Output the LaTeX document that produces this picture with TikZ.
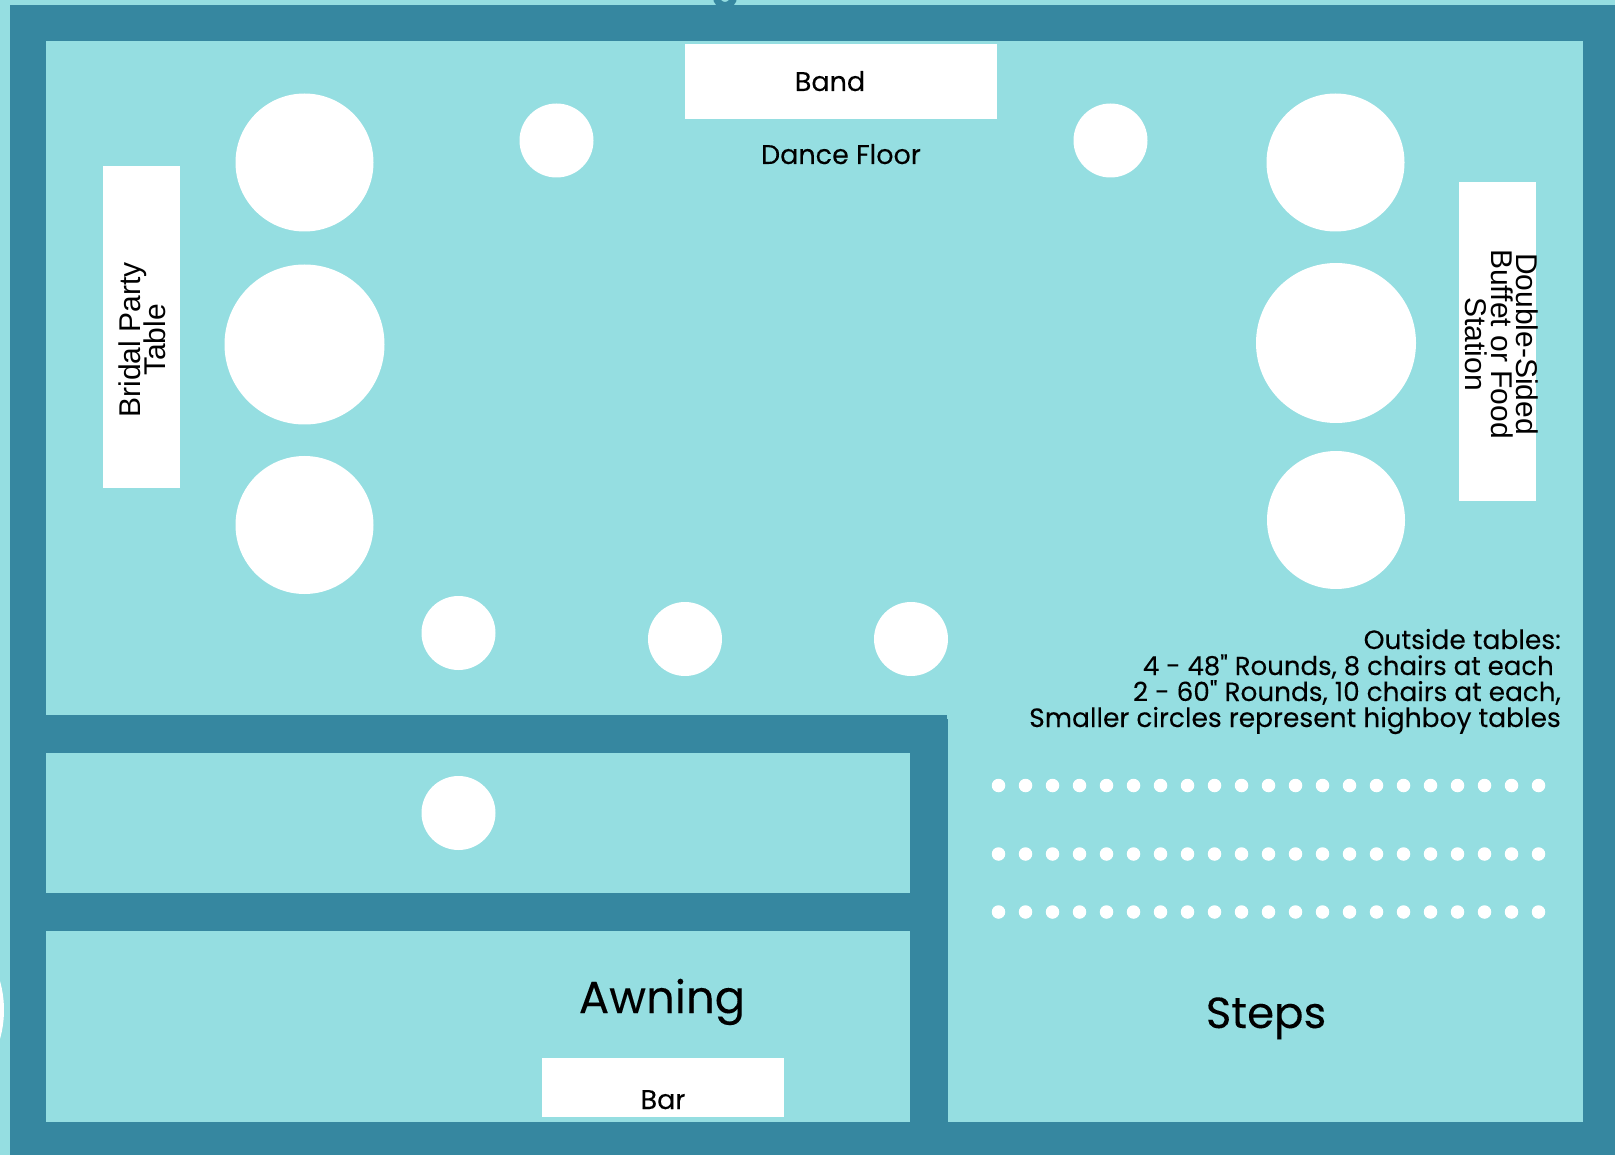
\documentclass[tikz,border=0pt]{standalone}
\usepackage{fontspec}
\newfontfamily\poppinsfont{Poppins}[FakeBold=0.12]
\newfontfamily\arialfont{Liberation Sans}
\definecolor{floorcol}{HTML}{95DEE1}
\definecolor{wallcol}{HTML}{3687A0}
\lineskiplimit=-100pt

\begin{document}
\begin{tikzpicture}[x=1pt,y=-1pt]

\tikzset{tableround/.style={
		circle,
		fill=white,
		minimum size=#1,
		inner sep=0pt
	},
	tableround/.default=138pt,
	tablerect/.style={
		fill=white,
		inner sep=0pt
	},
	wallpart/.style={fill=wallcol},
	label/.style={anchor=base,inner sep=0pt,font=\poppinsfont\fontsize{#1}{#1}\selectfont},
	label/.default=27,
	notes/.style={anchor=base east,inner sep=0pt,font=\poppinsfont\fontsize{#1}{#1}\selectfont},
	notes/.default=26.5,
	sidelabel/.style={align=center,inner sep=0pt,font=\arialfont\fontsize{30}{25.5}\selectfont}
}

\useasboundingbox (0,0) rectangle (1615,1155);
\fill[floorcol] (0,0) rectangle (1615,1155);
\node[circle,fill=white,minimum size=212pt,inner sep=0pt] (edgearc) at (-102,1010) {};
\node[circle,draw=wallcol,line width=7pt,minimum size=17pt,inner sep=0pt] (topring) at (725,-3) {};

%walls
\fill[wallpart] (10,5) rectangle (1615,1155);
\fill[floorcol] (45.5,41) rectangle (1583,1122);
\fill[wallpart] (45.5,715) rectangle (947,753);
\fill[wallpart] (910,719) rectangle (948,1122);
\fill[wallpart] (45.5,893) rectangle (910,931);

%long tables
\path[tablerect] (685,44) rectangle (997,119);
\path[tablerect] (103,166) rectangle (180,488);
\path[tablerect] (1459,182) rectangle (1536,501);
\path[tablerect] (542,1058) rectangle (784,1117);

%round tables
\node[tableround] (roundA) at (304.5,162.5) {};
\node[tableround=160pt] (roundB) at (304.5,344.5) {};
\node[tableround] (roundC) at (304.5,525) {};
\node[tableround] (roundD) at (1335.5,162.5) {};
\node[tableround=160pt] (roundE) at (1336,343) {};
\node[tableround] (roundF) at (1336,520) {};

%highboy tables
\foreach \name/\x/\y in {hbA/556.5/140.5,hbB/1110.5/140.5,hbC/458.5/633,hbD/685/639,hbE/911/639,hbF/458.5/813}
	\node[tableround=74pt] (\name) at (\x,\y) {};

%steps
\foreach \row/\y in {1/785.5,2/854,3/912}
	\foreach \col in {0,...,20}
		\node[tableround=13.5pt] (dot\row-\col) at (998.5+27*\col,\y) {};

%texts
\node[label] (band) at (830,91) {Band};
\node[label] (dancefloor) at (841,164) {Dance Floor};
\node[label] (bar) at (663,1109) {Bar};
\node[label=45] (awning) at (662,1013) {Awning};
\node[label=43.5] (steps) at (1266,1028) {Steps};

\node[sidelabel,rotate=90] (bridal) at (142.5,340) {Bridal Party\\Table};
\node[sidelabel,rotate=-90] (buffet) at (1502,344) {Double-Sided\\Buffet or Food\\Station};

\node[notes] (notesA) at (1561,649) {Outside tables:};
\node[notes=26] (notesB) at (1554,675) {4 - 48" Rounds, 8 chairs at each};
\node[notes=26.3] (notesC) at (1561,701) {2 - 60" Rounds, 10 chairs at each,};
\node[notes] (notesD) at (1561,727) {Smaller circles represent highboy tables};
\end{tikzpicture}
\end{document}
